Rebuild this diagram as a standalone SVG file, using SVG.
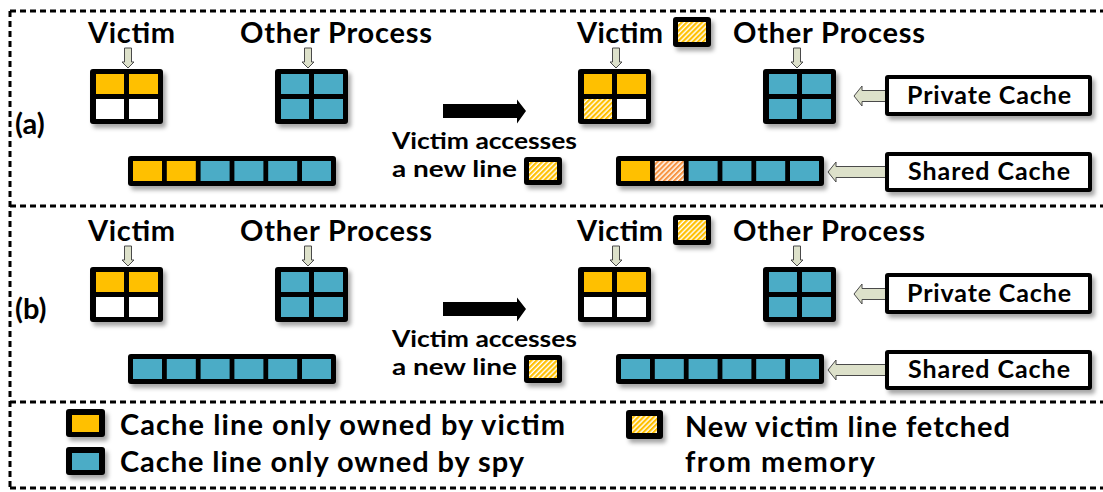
<svg xmlns="http://www.w3.org/2000/svg" width="1103" height="492" viewBox="0 0 1103 492">
<style>
.dash{stroke:#000;stroke-width:3;stroke-dasharray:6 4;fill:none}
.t{font-family:Lato,"Liberation Sans",Arial,sans-serif;font-weight:bold;fill:#000}
.t28{font-size:29px}
.t24{font-size:25px}
.t23{font-size:23px}
.fr{fill:#000}
.y{fill:#FFC000}
.b{fill:#4BACC6}
.w{fill:#fff}
.hy{fill:url(#hatchY)}
.ho{fill:url(#hatchO)}
.ha{fill:#DDE1CA;stroke:#4a4a4a;stroke-width:1}
.lbox{fill:#fff;stroke:#000;stroke-width:4}
.sh{filter:url(#shadow)}
</style>
<defs>
<filter id="shadow" x="-20%" y="-30%" width="150%" height="180%">
<feDropShadow dx="3" dy="4" stdDeviation="2.2" flood-color="#000" flood-opacity="0.35"/>
</filter>
<pattern id="hatchY" patternUnits="userSpaceOnUse" width="3.6" height="8" patternTransform="rotate(45)">
<rect width="3.6" height="8" fill="#fff"/>
<rect width="2.2" height="8" fill="#FFC000"/>
</pattern>
<pattern id="hatchO" patternUnits="userSpaceOnUse" width="3.6" height="8" patternTransform="rotate(45)">
<rect width="3.6" height="8" fill="#fff"/>
<rect width="2.2" height="8" fill="#F79646"/>
</pattern>
</defs>

<g id="frame">
<line class="dash" x1="10" y1="11" x2="1103" y2="11"/>
<line class="dash" x1="10" y1="206" x2="1103" y2="206"/>
<line class="dash" x1="10" y1="402" x2="1103" y2="402"/>
<line class="dash" x1="10" y1="488" x2="1103" y2="488"/>
<line class="dash" x1="10" y1="11" x2="10" y2="488"/>
</g>

<g id="connectors">
<polygon class="ha" points="124.5,48 131.5,48 131.5,62 134,62 128,68 122,62 124.5,62"/>
<polygon class="ha" points="304.5,48 311.5,48 311.5,62 314,62 308,68 302,62 304.5,62"/>
<polygon class="ha" points="612.5,48 619.5,48 619.5,62 622,62 616,68 610,62 612.5,62"/>
<polygon class="ha" points="793.5,48 800.5,48 800.5,62 803,62 797,68 791,62 793.5,62"/>
<polygon class="ha" points="854,96 862,86 862,90.5 886,90.5 886,101.5 862,101.5 862,106"/>
<polygon class="ha" points="828,172 836,162 836,166.5 886,166.5 886,177.5 836,177.5 836,182"/>
<polygon fill="#000" points="443,104 517,104 517,99.5 526,111 517,123.5 517,118 443,118"/>
<g transform="translate(0,198)">
<polygon class="ha" points="124.5,48 131.5,48 131.5,62 134,62 128,68 122,62 124.5,62"/>
<polygon class="ha" points="304.5,48 311.5,48 311.5,62 314,62 308,68 302,62 304.5,62"/>
<polygon class="ha" points="612.5,48 619.5,48 619.5,62 622,62 616,68 610,62 612.5,62"/>
<polygon class="ha" points="793.5,48 800.5,48 800.5,62 803,62 797,68 791,62 793.5,62"/>
<polygon class="ha" points="854,96 862,86 862,90.5 886,90.5 886,101.5 862,101.5 862,106"/>
<polygon class="ha" points="828,172 836,162 836,166.5 886,166.5 886,177.5 836,177.5 836,182"/>
<polygon fill="#000" points="443,104 517,104 517,99.5 526,111 517,123.5 517,118 443,118"/>
</g>
</g>

<!-- ===== Section (a) ===== -->
<g id="a-label"><text class="t t28" x="15" y="134">(a)</text></g>
<g id="a-victim-title"><text class="t t28" x="88" y="43" textLength="87">Victim</text></g>
<g id="a-other-title"><text class="t t28" x="240" y="43" textLength="192">Other Process</text></g>
<g id="a-victim2-title">
<text class="t t28" x="577" y="43" textLength="86">Victim</text>
<g class="sh"><rect class="fr" x="673" y="17" width="38" height="30" rx="3"/></g>
<rect class="hy" x="678" y="22" width="28" height="20"/>
</g>
<g id="a-other2-title"><text class="t t28" x="733" y="43" textLength="192">Other Process</text></g>

<g id="a-victim-cache" transform="translate(90,69)">
<rect class="fr sh" x="0" y="0" width="73" height="55" rx="3"/>
<rect class="y" x="6" y="5" width="28" height="20"/><rect class="y" x="39" y="5" width="29" height="20"/>
<rect class="w" x="6" y="30" width="28" height="20"/><rect class="w" x="39" y="30" width="29" height="20"/>
</g>
<g id="a-other-cache" transform="translate(275,69)">
<rect class="fr sh" x="0" y="0" width="73" height="55" rx="3"/>
<rect class="b" x="6" y="5" width="28" height="20"/><rect class="b" x="39" y="5" width="29" height="20"/>
<rect class="b" x="6" y="30" width="28" height="20"/><rect class="b" x="39" y="30" width="29" height="20"/>
</g>
<g id="a-shared" transform="translate(128,156)">
<rect class="fr sh" x="0" y="0" width="208" height="30" rx="3"/>
<rect class="y" x="5" y="5" width="29" height="20"/>
<rect class="y" x="38.8" y="5" width="29" height="20"/>
<rect class="b" x="72.6" y="5" width="29" height="20"/>
<rect class="b" x="106.4" y="5" width="29" height="20"/>
<rect class="b" x="140.2" y="5" width="29" height="20"/>
<rect class="b" x="174" y="5" width="29" height="20"/>
</g>
<g id="a-access-label">
<text class="t t23" x="392" y="149" textLength="185" lengthAdjust="spacingAndGlyphs">Victim accesses</text>
<text class="t t23" x="392" y="177" textLength="125" lengthAdjust="spacingAndGlyphs">a new line</text>
<g class="sh"><rect class="fr" x="524" y="157" width="38" height="28" rx="3"/></g>
<rect class="hy" x="529" y="162" width="28" height="18"/>
</g>
<g id="a-victim-cache2" transform="translate(578,69)">
<rect class="fr sh" x="0" y="0" width="73" height="55" rx="3"/>
<rect class="y" x="6" y="5" width="28" height="20"/><rect class="y" x="39" y="5" width="29" height="20"/>
<rect class="hy" x="6" y="30" width="28" height="20"/><rect class="w" x="39" y="30" width="29" height="20"/>
</g>
<g id="a-other-cache2" transform="translate(763,69)">
<rect class="fr sh" x="0" y="0" width="73" height="55" rx="3"/>
<rect class="b" x="6" y="5" width="28" height="20"/><rect class="b" x="39" y="5" width="29" height="20"/>
<rect class="b" x="6" y="30" width="28" height="20"/><rect class="b" x="39" y="30" width="29" height="20"/>
</g>
<g id="a-shared2" transform="translate(616,156)">
<rect class="fr sh" x="0" y="0" width="208" height="30" rx="3"/>
<rect class="y" x="5" y="5" width="29" height="20"/>
<rect class="ho" x="38.8" y="5" width="29" height="20"/>
<rect class="b" x="72.6" y="5" width="29" height="20"/>
<rect class="b" x="106.4" y="5" width="29" height="20"/>
<rect class="b" x="140.2" y="5" width="29" height="20"/>
<rect class="b" x="174" y="5" width="29" height="20"/>
</g>
<g id="a-private-box">
<rect class="lbox sh" x="887" y="77" width="203" height="37" rx="1"/>
<text class="t t24" x="989" y="104" text-anchor="middle" textLength="164">Private Cache</text>
</g>
<g id="a-shared-box">
<rect class="lbox sh" x="887" y="154" width="203" height="36" rx="1"/>
<text class="t t24" x="989" y="180" text-anchor="middle" textLength="162">Shared Cache</text>
</g>

<!-- ===== Section (b) ===== -->
<g id="b-label"><text class="t t28" x="15" y="319">(b)</text></g>
<g transform="translate(0,198)">
<g id="b-victim-title"><text class="t t28" x="88" y="43" textLength="87">Victim</text></g>
<g id="b-other-title"><text class="t t28" x="240" y="43" textLength="192">Other Process</text></g>
<g id="b-victim2-title">
<text class="t t28" x="577" y="43" textLength="86">Victim</text>
<g class="sh"><rect class="fr" x="673" y="17" width="38" height="30" rx="3"/></g>
<rect class="hy" x="678" y="22" width="28" height="20"/>
</g>
<g id="b-other2-title"><text class="t t28" x="733" y="43" textLength="192">Other Process</text></g>

<g id="b-victim-cache" transform="translate(90,69)">
<rect class="fr sh" x="0" y="0" width="73" height="55" rx="3"/>
<rect class="y" x="6" y="5" width="28" height="20"/><rect class="y" x="39" y="5" width="29" height="20"/>
<rect class="w" x="6" y="30" width="28" height="20"/><rect class="w" x="39" y="30" width="29" height="20"/>
</g>
<g id="b-other-cache" transform="translate(275,69)">
<rect class="fr sh" x="0" y="0" width="73" height="55" rx="3"/>
<rect class="b" x="6" y="5" width="28" height="20"/><rect class="b" x="39" y="5" width="29" height="20"/>
<rect class="b" x="6" y="30" width="28" height="20"/><rect class="b" x="39" y="30" width="29" height="20"/>
</g>
<g id="b-shared" transform="translate(128,156)">
<rect class="fr sh" x="0" y="0" width="208" height="30" rx="3"/>
<rect class="b" x="5" y="5" width="29" height="20"/>
<rect class="b" x="38.8" y="5" width="29" height="20"/>
<rect class="b" x="72.6" y="5" width="29" height="20"/>
<rect class="b" x="106.4" y="5" width="29" height="20"/>
<rect class="b" x="140.2" y="5" width="29" height="20"/>
<rect class="b" x="174" y="5" width="29" height="20"/>
</g>
<g id="b-access-label">
<text class="t t23" x="392" y="149" textLength="185" lengthAdjust="spacingAndGlyphs">Victim accesses</text>
<text class="t t23" x="392" y="177" textLength="125" lengthAdjust="spacingAndGlyphs">a new line</text>
<g class="sh"><rect class="fr" x="524" y="157" width="38" height="28" rx="3"/></g>
<rect class="hy" x="529" y="162" width="28" height="18"/>
</g>
<g id="b-victim-cache2" transform="translate(578,69)">
<rect class="fr sh" x="0" y="0" width="73" height="55" rx="3"/>
<rect class="y" x="6" y="5" width="28" height="20"/><rect class="y" x="39" y="5" width="29" height="20"/>
<rect class="w" x="6" y="30" width="28" height="20"/><rect class="w" x="39" y="30" width="29" height="20"/>
</g>
<g id="b-other-cache2" transform="translate(763,69)">
<rect class="fr sh" x="0" y="0" width="73" height="55" rx="3"/>
<rect class="b" x="6" y="5" width="28" height="20"/><rect class="b" x="39" y="5" width="29" height="20"/>
<rect class="b" x="6" y="30" width="28" height="20"/><rect class="b" x="39" y="30" width="29" height="20"/>
</g>
<g id="b-shared2" transform="translate(616,156)">
<rect class="fr sh" x="0" y="0" width="208" height="30" rx="3"/>
<rect class="b" x="5" y="5" width="29" height="20"/>
<rect class="b" x="38.8" y="5" width="29" height="20"/>
<rect class="b" x="72.6" y="5" width="29" height="20"/>
<rect class="b" x="106.4" y="5" width="29" height="20"/>
<rect class="b" x="140.2" y="5" width="29" height="20"/>
<rect class="b" x="174" y="5" width="29" height="20"/>
</g>
<g id="b-private-box">
<rect class="lbox sh" x="887" y="77" width="203" height="37" rx="1"/>
<text class="t t24" x="989" y="104" text-anchor="middle" textLength="164">Private Cache</text>
</g>
<g id="b-shared-box">
<rect class="lbox sh" x="887" y="154" width="203" height="36" rx="1"/>
<text class="t t24" x="989" y="180" text-anchor="middle" textLength="162">Shared Cache</text>
</g>
</g>

<!-- ===== Legend ===== -->
<g id="legend-victim">
<rect class="fr sh" x="66" y="409" width="39" height="28" rx="3"/>
<rect class="y" x="72" y="415" width="27" height="17"/>
<text class="t t28" x="120" y="435" textLength="445">Cache line only owned by victim</text>
</g>
<g id="legend-spy">
<rect class="fr sh" x="66" y="447" width="39" height="28" rx="3"/>
<rect class="b" x="72" y="453" width="27" height="17"/>
<text class="t t28" x="120" y="472" textLength="404">Cache line only owned by spy</text>
</g>
<g id="legend-new">
<rect class="fr sh" x="626" y="410" width="37" height="29" rx="3"/>
<rect class="hy" x="632" y="416" width="25" height="17"/>
<text class="t t28" x="685" y="437" textLength="325">New victim line fetched</text>
<text class="t t28" x="685" y="472" textLength="190">from memory</text>
</g>
</svg>
